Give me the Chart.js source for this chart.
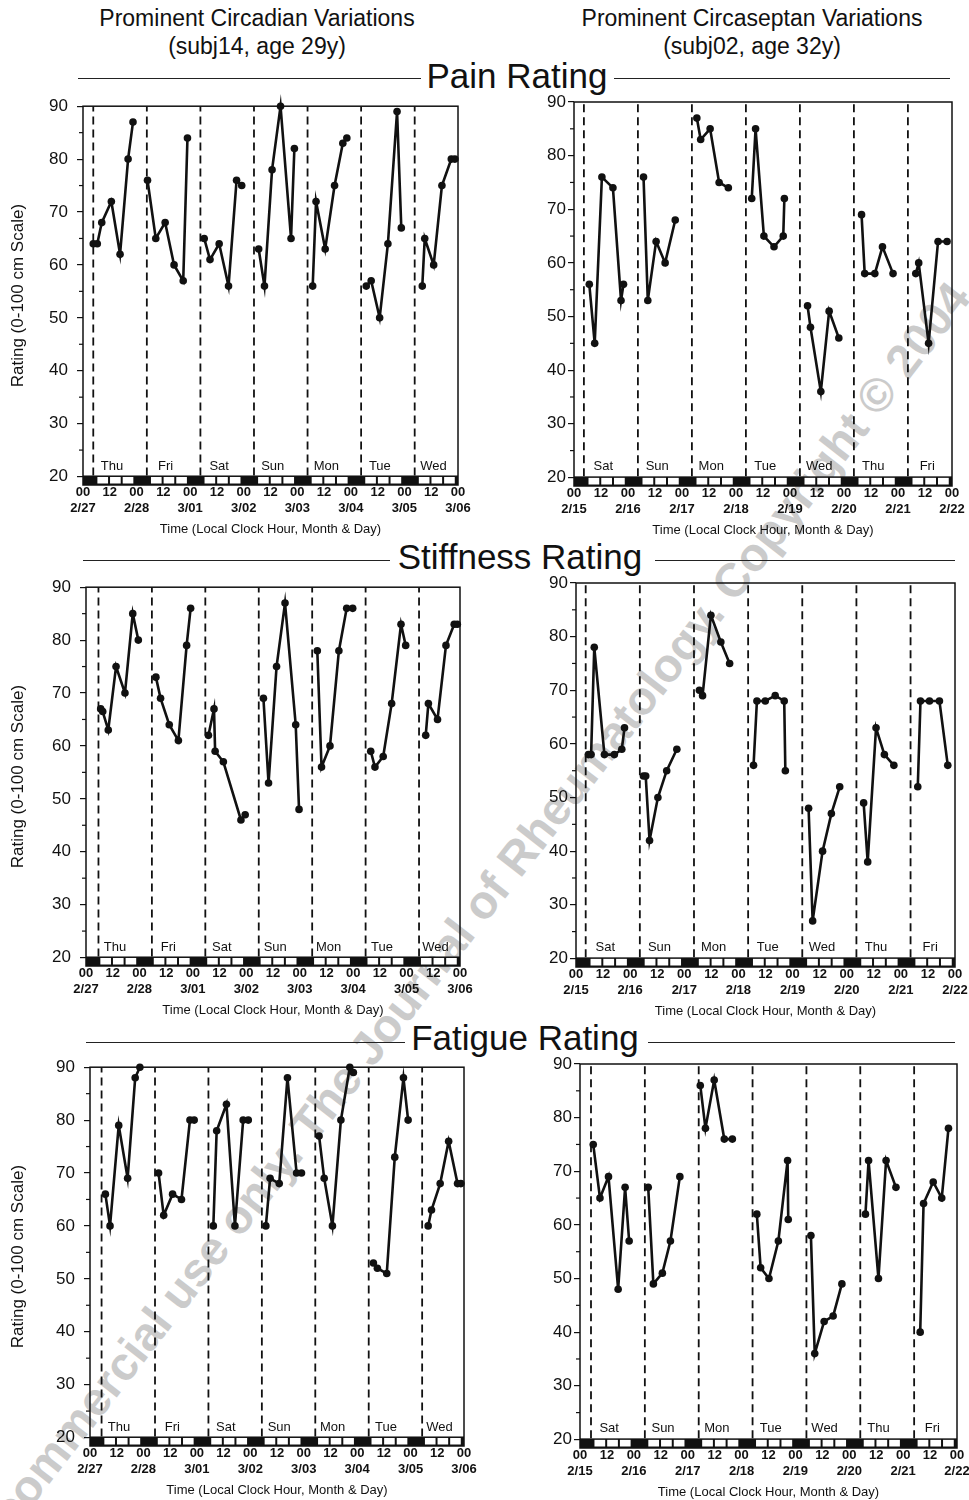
<!DOCTYPE html>
<html>
<head>
<title>Pain, Stiffness and Fatigue Ratings</title>
<script src="https://cdn.jsdelivr.net/npm/chart.js"></script>
<style>
body { margin:0; background:#fff; overflow:hidden; }
#page { position:relative; width:969px; height:1500px; overflow:hidden; font-family:'Liberation Sans', Arial, sans-serif; color:#111; }
.sub { position:absolute; width:460px; font-size:23px; line-height:28px; text-align:center; }
.head { position:absolute; font-size:35px; line-height:40px; white-space:nowrap; transform:translateX(-50%); background:transparent; }
.rule { position:absolute; height:0; border-top:1.5px solid #222; }
.wm { position:absolute; left:1px; top:1495px; font-size:47px; font-weight:bold; line-height:50px; color:#cbcbcb; white-space:nowrap; transform-origin:0 50%; transform:rotate(-52.1deg); }
canvas { position:absolute; }
</style>
</head>
<body>
<div id="page">
  <div class="wm">commercial use only. The Journal of Rheumatology. Copyright © 2004</div>

  <div class="sub" style="left:27px;top:4px">Prominent Circadian Variations<br>(subj14, age 29y)</div>
  <div class="sub" style="left:522px;top:4px">Prominent Circaseptan Variations<br>(subj02, age 32y)</div>

  <div class="rule" style="left:78px;width:343px;top:78px"></div>
  <div class="head" style="left:517px;top:56px">Pain Rating</div>
  <div class="rule" style="left:614px;width:336px;top:78px"></div>

  <div class="rule" style="left:83px;width:307px;top:560px"></div>
  <div class="head" style="left:520px;top:537px">Stiffness Rating</div>
  <div class="rule" style="left:655px;width:300px;top:560px"></div>

  <div class="rule" style="left:86px;width:319px;top:1042px"></div>
  <div class="head" style="left:525px;top:1018px">Fatigue Rating</div>
  <div class="rule" style="left:648px;width:307px;top:1042px"></div>

  <canvas id="painL" width="472" height="450" style="left:0;top:87px"></canvas>
  <canvas id="painR" width="440" height="450" style="left:526px;top:88px"></canvas>
  <canvas id="stiffL" width="474" height="450" style="left:0;top:568px"></canvas>
  <canvas id="stiffR" width="441" height="450" style="left:528px;top:569px"></canvas>
  <canvas id="fatL" width="478" height="450" style="left:0;top:1048px"></canvas>
  <canvas id="fatR" width="439" height="450" style="left:532px;top:1050px"></canvas>
</div>

<script>
Chart.defaults.font.family = "'Liberation Sans', Arial, sans-serif";
Chart.defaults.color = '#111';

// day names and date labels under the x axis
const circadianDays = ['Thu', 'Fri', 'Sat', 'Sun', 'Mon', 'Tue', 'Wed'];
const circadianDates = ['2/27', '2/28', '3/01', '3/02', '3/03', '3/04', '3/05', '3/06'];
const circaseptanDays = ['Sat', 'Sun', 'Mon', 'Tue', 'Wed', 'Thu', 'Fri'];
const circaseptanDates = ['2/15', '2/16', '2/17', '2/18', '2/19', '2/20', '2/21', '2/22'];

const xTickHours = [0, 12, 24, 36, 48, 60, 72, 84, 96, 108, 120, 132, 144, 156, 168];
const yTickValues = [20, 30, 40, 50, 60, 70, 80, 90];
const yMinorTicks = [25, 35, 45, 55, 65, 75, 85];

// clock hour of each dashed (wake) line, one per panel
const dashedLineHours = [4.6, 4.4, 5.6, 4.3, 5.2, 4.9];
// light/dark bar under each plot
const wakeHour = 6, sleepOnsetHour = 23, lightBoxesPerDay = 3;

// ratings: one inner list per day, clock hour of that day + rating
const painCircadianHours = [
  [4.6, 6.4, 8.4, 12.7, 16.6, 20.2, 22.4],
  [4.9, 8.6, 12.8, 16.8, 20.9, 22.8],
  [6.3, 8.9, 13.0, 17.2, 20.8, 23.1],
  [6.7, 9.3, 12.7, 16.5, 21.2, 22.7],
  [6.9, 8.4, 12.5, 16.7, 20.4, 22.2],
  [6.9, 9.1, 12.9, 16.6, 20.7, 22.6],
  [8.0, 9.1, 13.1, 16.8, 21.0, 22.6]
];
const painCircadianValues = [
  [64, 64, 68, 72, 62, 80, 87],
  [76, 65, 68, 60, 57, 84],
  [65, 61, 64, 56, 76, 75],
  [63, 56, 78, 90, 65, 82],
  [56, 72, 63, 75, 83, 84],
  [56, 57, 50, 64, 89, 67],
  [56, 65, 60, 75, 80, 80]
];

const painCircaseptanHours = [
  [6.8, 9.2, 12.4, 17.3, 20.9, 22.0],
  [6.9, 8.8, 12.5, 16.5, 21.0],
  [6.6, 8.3, 12.5, 16.5, 20.6],
  [7.0, 8.7, 12.4, 16.9, 21.0, 21.5],
  [7.8, 9.1, 13.7, 17.4, 21.7],
  [7.8, 9.2, 13.7, 17.1, 21.8],
  [7.9, 9.2, 13.6, 17.8, 21.8]
];
const painCircaseptanValues = [
  [56, 45, 76, 74, 53, 56],
  [76, 53, 64, 60, 68],
  [87, 83, 85, 75, 74],
  [72, 85, 65, 63, 65, 72],
  [52, 48, 36, 51, 46],
  [69, 58, 58, 63, 58],
  [58, 60, 45, 64, 64]
];

const stiffCircadianHours = [
  [6.6, 7.5, 10.0, 13.5, 17.5, 21.0, 23.5],
  [7.4, 9.5, 13.4, 17.5, 21.2, 23.0],
  [7.0, 9.5, 10.0, 13.7, 21.6, 23.5],
  [7.7, 10.0, 13.6, 17.4, 22.2, 23.7],
  [7.9, 9.8, 13.6, 17.6, 21.1, 23.8],
  [7.9, 9.8, 13.5, 17.3, 21.5, 23.6],
  [8.6, 9.8, 13.9, 17.7, 21.4, 22.8]
];
const stiffCircadianValues = [
  [67, 66.5, 63, 75, 70, 85, 80],
  [73, 69, 64, 61, 79, 86],
  [62, 67, 59, 57, 46, 47],
  [69, 53, 75, 87, 64, 48],
  [78, 56, 60, 78, 86, 86],
  [59, 56, 58, 68, 83, 79],
  [62, 68, 65, 79, 83, 83]
];

const stiffCircaseptanHours = [
  [5.5, 6.7, 8.1, 12.6, 17.0, 20.3, 21.5],
  [5.9, 6.9, 8.6, 12.3, 16.2, 20.7],
  [6.7, 8.1, 11.8, 16.2, 20.1],
  [6.7, 8.2, 11.9, 16.3, 20.3, 20.8],
  [7.1, 8.9, 13.3, 17.2, 20.9],
  [7.5, 9.3, 13.0, 16.7, 20.9],
  [7.5, 8.7, 12.7, 17.1, 20.8]
];
const stiffCircaseptanValues = [
  [58, 58, 78, 58, 58, 59, 63],
  [54, 54, 42, 50, 55, 59],
  [70, 69, 84, 79, 75],
  [56, 68, 68, 69, 68, 55],
  [48, 27, 40, 47, 52],
  [49, 38, 63, 58, 56],
  [52, 68, 68, 68, 56]
];

const fatCircadianHours = [
  [6.9, 9.0, 12.9, 16.9, 20.3, 22.4],
  [6.8, 9.1, 13.1, 17.1, 20.9, 22.8],
  [7.4, 8.9, 13.3, 17.1, 20.8, 23.1],
  [7.0, 8.9, 13.0, 16.7, 20.8, 23.0],
  [6.9, 9.2, 12.9, 16.7, 20.7, 22.3],
  [7.3, 9.1, 13.3, 16.9, 20.8, 22.9],
  [7.9, 9.4, 13.3, 17.1, 21.1, 22.6]
];
const fatCircadianValues = [
  [66, 60, 79, 69, 88, 90],
  [70, 62, 66, 65, 80, 80],
  [60, 78, 83, 60, 80, 80],
  [60, 69, 68, 88, 70, 70],
  [77, 69, 60, 80, 90, 89],
  [53, 52, 51, 73, 88, 80],
  [60, 63, 68, 76, 68, 68]
];

const fatCircaseptanHours = [
  [5.9, 8.9, 12.7, 17.0, 20.1, 21.9],
  [6.4, 8.7, 12.7, 16.3, 20.5],
  [5.6, 7.9, 11.8, 16.3, 19.9],
  [6.8, 8.5, 12.2, 16.4, 20.5, 20.8],
  [6.9, 8.6, 12.8, 16.8, 20.7],
  [7.2, 8.6, 13.0, 16.4, 20.8],
  [7.6, 9.1, 13.4, 17.2, 20.2]
];
const fatCircaseptanValues = [
  [75, 65, 69, 48, 67, 57],
  [67, 49, 51, 57, 69],
  [86, 78, 87, 76, 76],
  [62, 52, 50, 57, 72, 61],
  [58, 36, 42, 43, 49],
  [62, 72, 50, 72, 67],
  [40, 64, 68, 65, 78]
];

const Y_MIN = 18.4, Y_MAX = 90, STRIP_TOP = 20.2;
const DAY_LABEL_HOUR = 13, DAY_LABEL_Y = 22;

const panels = [
  { id: 'painL',  hours: painCircadianHours,    values: painCircadianValues,    days: circadianDays,   dates: circadianDates,   left: true,  axisWidth: 83 },
  { id: 'painR',  hours: painCircaseptanHours,  values: painCircaseptanValues,  days: circaseptanDays, dates: circaseptanDates, left: false, axisWidth: 48 },
  { id: 'stiffL', hours: stiffCircadianHours,   values: stiffCircadianValues,   days: circadianDays,   dates: circadianDates,   left: true,  axisWidth: 86 },
  { id: 'stiffR', hours: stiffCircaseptanHours, values: stiffCircaseptanValues, days: circaseptanDays, dates: circaseptanDates, left: false, axisWidth: 48 },
  { id: 'fatL',   hours: fatCircadianHours,     values: fatCircadianValues,     days: circadianDays,   dates: circadianDates,   left: true,  axisWidth: 90 },
  { id: 'fatR',   hours: fatCircaseptanHours,   values: fatCircaseptanValues,   days: circaseptanDays, dates: circaseptanDates, left: false, axisWidth: 48 }
];

function ratingPoints(hours, values) {
  var pts = [];
  hours.forEach((day, d) => {
    day.forEach((h, i) => pts.push({ x: d * 24 + h, y: values[d][i] }));
    pts.push({ x: d * 24 + 23.99, y: null }); // break between days
  });
  return pts;
}

function dashPoints(offset) {
  var pts = [];
  for (let d = 0; d < 7; d++) {
    const x = d * 24 + offset;
    pts.push({ x: x, y: STRIP_TOP }, { x: x, y: Y_MAX }, { x: x, y: null });
  }
  return pts;
}

function decor(panel) {
  return {
    id: 'decor',
    beforeDatasetsDraw(chart) {
      const { ctx, chartArea: a, scales: { x, y } } = chart;
      const top = y.getPixelForValue(STRIP_TOP);
      ctx.save();
      // light/dark strip
      ctx.fillStyle = '#111';
      ctx.fillRect(a.left, top, a.right - a.left, a.bottom - top);
      ctx.fillStyle = '#fff';
      const span = (sleepOnsetHour - wakeHour) / lightBoxesPerDay;
      for (let d = 0; d < 7; d++) {
        for (let k = 0; k < lightBoxesPerDay; k++) {
          const x0 = x.getPixelForValue(d * 24 + wakeHour + k * span);
          const x1 = x.getPixelForValue(d * 24 + wakeHour + (k + 1) * span);
          ctx.fillRect(x0 + 1, top + 1.5, x1 - x0 - 2, a.bottom - top - 3);
        }
      }
      // day names
      ctx.fillStyle = '#111';
      ctx.font = "13px 'Liberation Sans', Arial, sans-serif";
      ctx.textAlign = 'center';
      ctx.textBaseline = 'middle';
      panel.days.forEach((name, d) => {
        ctx.fillText(name, x.getPixelForValue(d * 24 + DAY_LABEL_HOUR), y.getPixelForValue(DAY_LABEL_Y));
      });
      // minor y ticks
      ctx.strokeStyle = '#111';
      ctx.lineWidth = 1.2;
      yMinorTicks.forEach(v => {
        const py = y.getPixelForValue(v);
        ctx.beginPath(); ctx.moveTo(a.left - 4, py); ctx.lineTo(a.left, py); ctx.stroke();
      });
      ctx.restore();
    },
    afterDatasetsDraw(chart) {
      const { ctx, chartArea: a } = chart;
      ctx.save();
      ctx.strokeStyle = '#111';
      ctx.lineWidth = 1.5;
      ctx.strokeRect(a.left, a.top, a.right - a.left, a.bottom - a.top);
      ctx.restore();
    }
  };
}

panels.forEach((p, idx) => {
  new Chart(document.getElementById(p.id).getContext('2d'), {
    type: 'line',
    data: {
      datasets: [
        {
          data: ratingPoints(p.hours, p.values),
          borderColor: '#111',
          backgroundColor: '#111',
          borderWidth: 2.6,
          pointRadius: 3.8,
          pointBorderWidth: 0,
          pointBackgroundColor: '#111',
          tension: 0,
          spanGaps: false,
          clip: false
        },
        {
          data: dashPoints(dashedLineHours[idx]),
          borderColor: '#111',
          borderWidth: 1.8,
          borderDash: [8, 5],
          pointRadius: 0,
          spanGaps: false
        }
      ]
    },
    options: {
      responsive: false,
      animation: false,
      events: [],
      layout: { padding: { top: 14, right: 14, bottom: 0, left: 0 } },
      plugins: { legend: { display: false }, tooltip: { enabled: false } },
      scales: {
        x: {
          type: 'linear',
          min: 0,
          max: 168,
          afterBuildTicks: s => { s.ticks = xTickHours.map(v => ({ value: v })); },
          afterFit: s => { s.height = 52; },
          ticks: {
            autoSkip: false,
            maxRotation: 0,
            padding: 0,
            font: { size: 13, weight: 'bold' },
            callback: v => (v % 24 === 0 ? ['00', p.dates[v / 24]] : '12')
          },
          grid: { drawOnChartArea: false, drawTicks: false },
          border: { display: false },
          title: { display: true, text: 'Time (Local Clock Hour, Month & Day)', font: { size: 13 }, padding: { top: 0, bottom: 0 } }
        },
        y: {
          min: Y_MIN,
          max: Y_MAX,
          afterBuildTicks: s => { s.ticks = yTickValues.map(v => ({ value: v })); },
          afterFit: s => { s.width = p.axisWidth; },
          ticks: { font: { size: 17 }, padding: p.left ? 9 : 2 },
          grid: { drawOnChartArea: false, tickLength: 6, color: '#111', lineWidth: 1.2 },
          border: { display: false },
          title: { display: p.left, text: 'Rating (0-100 cm Scale)', font: { size: 17 }, padding: { top: 8, bottom: 0 } }
        }
      }
    },
    plugins: [decor(p)]
  });
});
</script>
</body>
</html>
